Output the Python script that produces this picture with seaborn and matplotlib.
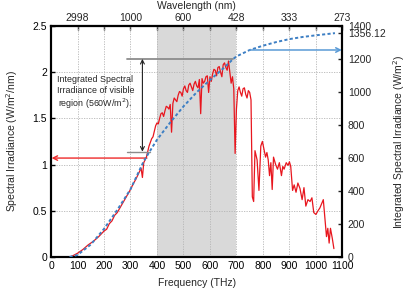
import matplotlib
matplotlib.use("Agg")
import matplotlib.pyplot as plt
import seaborn as sns
import pandas as pd

# ---- data ----
spec_freq = [70, 80, 100, 120, 140, 160, 180, 200, 210, 220, 230, 240, 250, 260, 270, 280,
             290, 300, 310, 320, 330, 340, 345, 350, 360, 370, 380, 385, 390, 395,
             400, 405, 410, 415, 420, 425, 430, 435, 440, 445, 450, 455, 460, 465, 470, 475,
             480, 485, 490, 495, 500, 505, 510, 515, 520, 525, 530, 535, 540, 545, 550, 555,
             560, 565, 570, 575, 580, 585, 590, 595, 600, 605, 610, 615, 620, 625, 630, 635,
             640, 645, 650, 655, 660, 665, 670, 675, 680, 685, 690, 695,
             700, 705, 710, 715, 720, 725, 730, 735, 740, 745, 750, 755,
             760, 765, 770, 778, 785, 792, 798, 803,
             810, 815, 820, 825, 830, 835, 840, 848, 855, 862, 870, 875, 880, 888, 895, 900,
             905, 912, 918, 925, 932, 940, 948, 955, 962, 970, 978, 985, 992, 1000, 1008,
             1015, 1022, 1028, 1035, 1040, 1045, 1050, 1055, 1062, 1068]
spec_val = [0.00, 0.01, 0.04, 0.08, 0.13, 0.17, 0.22, 0.28, 0.30, 0.36, 0.39, 0.45, 0.48, 0.53,
            0.58, 0.63, 0.68, 0.73, 0.79, 0.84, 0.90, 0.96, 0.86, 1.02, 1.08, 1.20, 1.28, 1.30,
            1.36, 1.42,
            1.45, 1.44, 1.50, 1.55, 1.56, 1.52, 1.58, 1.63, 1.62, 1.60, 1.65, 1.35, 1.66, 1.72,
            1.70, 1.68,
            1.75, 1.79, 1.78, 1.74, 1.82, 1.85, 1.80, 1.78, 1.86, 1.88, 1.84, 1.80, 1.87, 1.90,
            1.85, 1.83,
            1.92, 1.55, 1.93, 1.88, 1.90, 1.95, 1.96, 1.78, 1.95, 1.90, 1.98, 2.03, 2.02, 1.96,
            2.05, 2.06,
            2.00, 1.95, 2.08, 2.10, 2.05, 2.02, 2.12, 2.00, 1.88, 1.95, 1.82, 1.12,
            1.60, 1.80, 1.84, 1.78, 1.74, 1.82, 1.83, 1.76, 1.72, 1.80, 1.78, 1.70,
            0.65, 0.60, 1.15, 1.05, 0.72, 1.20, 1.25, 1.18,
            1.08, 1.13, 1.05, 0.88, 1.02, 0.73, 1.08, 1.00, 0.95, 1.02, 0.88, 0.98, 0.95, 1.02,
            0.99, 1.03,
            0.98, 0.72, 0.78, 0.70, 0.80, 0.74, 0.62, 0.75, 0.55, 0.62, 0.60, 0.64, 0.48, 0.46,
            0.50,
            0.53, 0.58, 0.62, 0.38, 0.22, 0.31, 0.15, 0.31, 0.20, 0.09]

integ_freq = [70, 100, 150, 200, 250, 300, 350, 372, 400, 450, 500, 550, 600, 650, 688, 700,
              750, 800, 850, 900, 950, 1000, 1050, 1072]
integ_val = [0, 12, 75, 170, 285, 410, 580, 638, 710, 815, 912, 998, 1072, 1142, 1200, 1215,
             1254, 1280, 1302, 1320, 1333, 1343, 1352, 1356.12]

freq_ticks = [0, 100, 200, 300, 400, 500, 600, 700, 800, 900, 1000, 1100]
wave_tick_freq = [100, 200, 300, 400, 500, 600, 700, 800, 900, 1000, 1100]
wave_tick_labels = ["2998", "", "1000", "", "600", "", "428", "", "333", "", "273"]
left_ticks = [0, 0.5, 1, 1.5, 2, 2.5]
left_tick_labels = ["0", "0.5", "1", "1.5", "2", "2.5"]
right_ticks = [0, 200, 400, 600, 800, 1000, 1200, 1356.12, 1400]
right_tick_labels = ["0", "200", "400", "600", "800", "1000", "1200", "1356.12", "1400"]
visible_band = (400, 700)
visible_low, visible_high = 638, 1200
red_arrow_y = 1.07
blue_arrow_y = 1254

sns.set_theme(style="white")
plt.rcParams["font.family"] = ["Liberation Sans", "DejaVu Sans"]
plt.rcParams["font.size"] = 7.5
FS = 7.5

spec_df = pd.DataFrame({"freq": spec_freq, "val": spec_val})
integ_df = pd.DataFrame({"freq": integ_freq, "val": integ_val})

fig = plt.figure(figsize=(4.15, 2.91), dpi=100)
ax = fig.add_subplot(111)
fig.subplots_adjust(left=0.123, right=0.825, bottom=0.117, top=0.911)

ax.axvspan(*visible_band, color="#d9d9d9", lw=0, zorder=0)
sns.lineplot(data=spec_df, x="freq", y="val", ax=ax, color="#e8161e", lw=0.9, zorder=3)
ax.set_xlim(0, 1100)
ax.set_ylim(0, 2.5)
ax.set_xticks(freq_ticks)
ax.set_xticklabels([str(t) for t in freq_ticks])
ax.set_yticks(left_ticks)
ax.set_yticklabels(left_tick_labels)
ax.grid(True, color="#b5b5b5", ls=(0, (1.5, 1.5)), lw=0.6)
ax.set_axisbelow(True)
ax.set_xlabel("Frequency (THz)", labelpad=5, fontsize=FS)
ax.set_ylabel("Spectral Irradiance (W/m$^2$/nm)", labelpad=9, fontsize=FS)
ax.tick_params(direction="in", length=3, width=1, pad=3, labelsize=FS, colors="black")

ax.text(167, 1.77, "Integrated Spectral\nIrradiance of visible\nregion (560W/m$^2$).",
        ha="center", va="center", fontsize=6.4, multialignment="center", zorder=5)
ax.annotate("", xy=(2, red_arrow_y), xytext=(362, red_arrow_y),
            arrowprops=dict(arrowstyle="->", color="#ee2a2a", lw=1.0, mutation_scale=8,
                            shrinkA=0, shrinkB=0), zorder=4)

ax2 = ax.twinx()
sns.lineplot(data=integ_df, x="freq", y="val", ax=ax2, color="#3d7fc4", lw=1.4,
             ls=(0, (1.6, 1.2)), zorder=3)
ax2.set_ylim(0, 1400)
ax2.set_xlim(0, 1100)
ax2.set_yticks(right_ticks)
ax2.set_yticklabels(right_tick_labels)
ax2.set_ylabel("Integrated Spectral Irradiance (W/m$^2$)", labelpad=4, fontsize=FS)
ax2.tick_params(direction="in", length=3, width=1, pad=4, labelsize=FS)
ax2.grid(False)

ax2.plot([288, 688], [visible_high, visible_high], color="#8c8c8c", lw=1.3, zorder=2)
ax2.plot([288, 372], [visible_low, visible_low], color="#8c8c8c", lw=1.0, zorder=2)
ax2.annotate("", xy=(345, visible_high), xytext=(345, visible_low),
             arrowprops=dict(arrowstyle="<->", color="#222222", lw=0.8, mutation_scale=7,
                             shrinkA=0, shrinkB=0))
ax2.annotate("", xy=(1098, blue_arrow_y), xytext=(750, blue_arrow_y),
             arrowprops=dict(arrowstyle="->", color="#5a9ad6", lw=1.1, mutation_scale=8,
                             shrinkA=0, shrinkB=0))

top = ax.secondary_xaxis("top")
top.set_xticks(wave_tick_freq)
top.set_xticklabels(wave_tick_labels)
top.set_xlabel("Wavelength (nm)", labelpad=3, fontsize=FS)
top.tick_params(direction="in", length=3, width=1, pad=2, labelsize=FS)

for a in (ax, ax2):
    for s in a.spines.values():
        s.set_linewidth(1.5)
        s.set_color("black")
for s in top.spines.values():
    s.set_linewidth(1.5)

fig.savefig("out.png", dpi=100)
